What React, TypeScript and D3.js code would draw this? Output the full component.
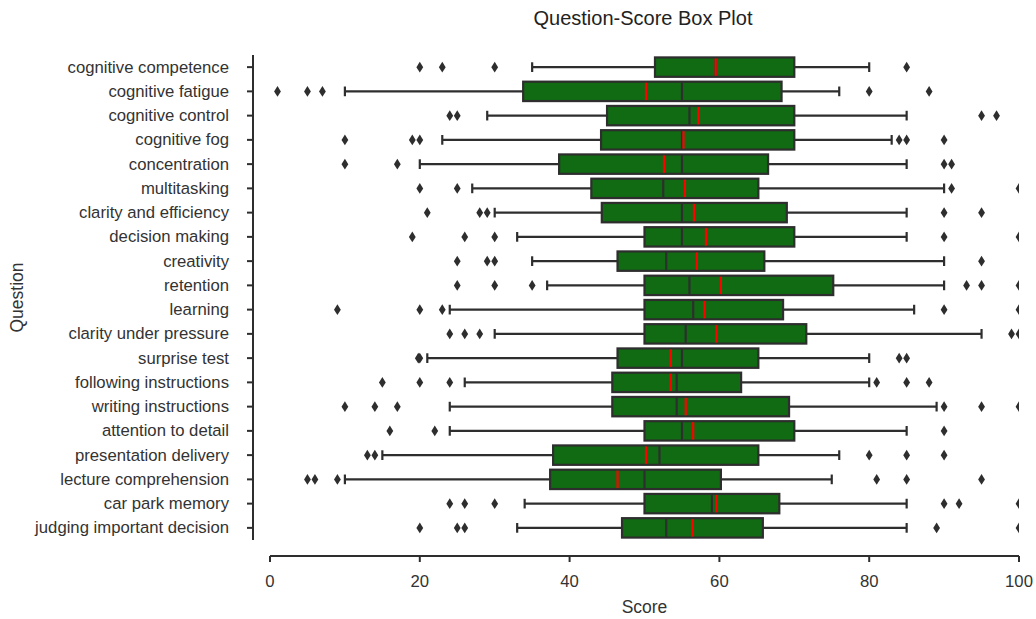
import { useEffect, useRef } from "react";
import * as d3 from "d3";

// one entry per question, top to bottom
const questions = [
  "cognitive competence",
  "cognitive fatigue",
  "cognitive control",
  "cognitive fog",
  "concentration",
  "multitasking",
  "clarity and efficiency",
  "decision making",
  "creativity",
  "retention",
  "learning",
  "clarity under pressure",
  "surprise test",
  "following instructions",
  "writing instructions",
  "attention to detail",
  "presentation delivery",
  "lecture comprehension",
  "car park memory",
  "judging important decision",
];

const whiskerLow = [35, 10, 29, 23, 20, 27, 30, 33, 35, 37, 24, 30, 21, 26, 24, 24, 15, 10, 34, 33];
const q1 = [51.4, 33.8, 45, 44.2, 38.6, 42.9, 44.3, 50, 46.4, 50, 50, 50, 46.4, 45.7, 45.7, 50, 37.8, 37.4, 50, 47];
const medians = [59.5, 55, 56, 55, 55, 52.5, 55, 55, 52.9, 56, 56.5, 55.5, 55, 54.3, 54.3, 55, 52, 50, 59, 52.9];
const means = [59.5, 50.2, 57.2, 55.2, 52.6, 55.4, 56.6, 58.2, 57, 60.2, 58, 59.6, 53.5, 53.5, 55.5, 56.5, 50.2, 46.4, 59.6, 56.4];
const q3 = [70, 68.3, 70, 70, 66.5, 65.2, 69, 70, 66, 75.2, 68.5, 71.6, 65.2, 62.9, 69.3, 70, 65.2, 60.2, 68, 65.8];
const whiskerHigh = [80, 76, 85, 83, 85, 90, 85, 85, 90, 90, 86, 95, 80, 80, 89, 85, 76, 75, 85, 85];
const outliers = [
  [20, 23, 30, 85],
  [1, 5, 7, 80, 88],
  [24, 25, 95, 97],
  [10, 19, 20, 84, 85, 90],
  [10, 17, 90, 91],
  [20, 25, 91, 100],
  [21, 28, 29, 90, 95],
  [19, 26, 30, 90, 100],
  [25, 29, 30, 95],
  [25, 30, 35, 93, 95, 100],
  [9, 20, 23, 90, 100],
  [24, 26, 28, 99, 100],
  [19.8, 20, 84, 85],
  [15, 20, 24, 81, 85, 88],
  [10, 14, 17, 90, 95, 100],
  [16, 22, 90],
  [13, 14, 80, 85, 90],
  [5, 6, 9, 81, 85, 95],
  [24, 26, 30, 90, 92, 100],
  [20, 25, 26, 89, 100],
];
const scoreTicks = [0, 20, 40, 60, 80, 100];

export default function App() {
  const ref = useRef<SVGSVGElement>(null);

  useEffect(() => {
    const width = 1036;
    const height = 619;
    const left = 270;
    const right = 1019;
    const top = 55;
    const bottom = 540;
    const ink = "#2e2e2e";
    const font = "'Liberation Sans', Arial, sans-serif";
    const lw = 2.2;

    const svg = d3.select(ref.current);
    svg.selectAll("*").remove();
    svg.attr("width", width).attr("height", height);

    const x = d3.scaleLinear().domain([0, 100]).range([left, right]);
    const y = d3.scaleBand().domain(questions).range([top, bottom]).padding(0);
    const boxH = y.bandwidth() * 0.8;
    const capH = boxH / 2;

    svg.append("defs")
      .append("clipPath")
      .attr("id", "plot-clip")
      .append("rect")
      .attr("x", left)
      .attr("y", top)
      .attr("width", right - left)
      .attr("height", bottom - top);

    const plot = svg.append("g").attr("clip-path", "url(#plot-clip)");

    questions.forEach((q, i) => {
      const cy = y(q)! + y.bandwidth() / 2;
      const g = plot.append("g");

      // whiskers and caps
      [[whiskerLow[i], q1[i]], [q3[i], whiskerHigh[i]]].forEach(([a, b]) => {
        g.append("line")
          .attr("x1", x(a)).attr("x2", x(b))
          .attr("y1", cy).attr("y2", cy)
          .attr("stroke", ink).attr("stroke-width", lw);
      });
      [whiskerLow[i], whiskerHigh[i]].forEach((v) => {
        g.append("line")
          .attr("x1", x(v)).attr("x2", x(v))
          .attr("y1", cy - capH / 2).attr("y2", cy + capH / 2)
          .attr("stroke", ink).attr("stroke-width", lw);
      });

      // box
      g.append("rect")
        .attr("x", x(q1[i]))
        .attr("y", cy - boxH / 2)
        .attr("width", x(q3[i]) - x(q1[i]))
        .attr("height", boxH)
        .attr("fill", "#106b12")
        .attr("stroke", ink)
        .attr("stroke-width", lw);

      // median
      g.append("line")
        .attr("x1", x(medians[i])).attr("x2", x(medians[i]))
        .attr("y1", cy - boxH / 2).attr("y2", cy + boxH / 2)
        .attr("stroke", ink).attr("stroke-width", lw);

      // mean
      g.append("line")
        .attr("x1", x(means[i])).attr("x2", x(means[i]))
        .attr("y1", cy - boxH / 2 + 1).attr("y2", cy + boxH / 2 - 1)
        .attr("stroke", "#ff0000").attr("stroke-width", 2.2);

      // fliers as thin diamonds
      g.selectAll("path.flier")
        .data(outliers[i])
        .join("path")
        .attr("class", "flier")
        .attr("d", (v) => {
          const px = x(v);
          return `M${px},${cy - 5.3}L${px + 3.4},${cy}L${px},${cy + 5.3}L${px - 3.4},${cy}Z`;
        })
        .attr("fill", ink);
    });

    // left axis, offset from the plot
    const yAxisX = 253;
    svg.append("line")
      .attr("x1", yAxisX).attr("x2", yAxisX)
      .attr("y1", top).attr("y2", bottom)
      .attr("stroke", ink).attr("stroke-width", 2);
    questions.forEach((q) => {
      const cy = y(q)! + y.bandwidth() / 2;
      svg.append("line")
        .attr("x1", yAxisX - 6).attr("x2", yAxisX)
        .attr("y1", cy).attr("y2", cy)
        .attr("stroke", ink).attr("stroke-width", 2);
      svg.append("text")
        .attr("x", yAxisX - 24)
        .attr("y", cy)
        .attr("text-anchor", "end")
        .attr("dominant-baseline", "central")
        .attr("font-family", font)
        .attr("font-size", 16.7)
        .attr("fill", "#333333")
        .text(q);
    });

    // bottom axis, offset from the plot
    const xAxisY = 556;
    svg.append("line")
      .attr("x1", left).attr("x2", right)
      .attr("y1", xAxisY).attr("y2", xAxisY)
      .attr("stroke", ink).attr("stroke-width", 2);
    scoreTicks.forEach((t) => {
      svg.append("line")
        .attr("x1", x(t)).attr("x2", x(t))
        .attr("y1", xAxisY).attr("y2", xAxisY + 6)
        .attr("stroke", ink).attr("stroke-width", 2);
      svg.append("text")
        .attr("x", x(t))
        .attr("y", 581)
        .attr("text-anchor", "middle")
        .attr("dominant-baseline", "central")
        .attr("font-family", font)
        .attr("font-size", 16.7)
        .attr("fill", "#333333")
        .text(t);
    });

    svg.append("text")
      .attr("x", (left + right) / 2)
      .attr("y", 607)
      .attr("text-anchor", "middle")
      .attr("dominant-baseline", "central")
      .attr("font-family", font)
      .attr("font-size", 17.5)
      .attr("fill", "#333333")
      .text("Score");

    svg.append("text")
      .attr("transform", `translate(17,${(top + bottom) / 2}) rotate(-90)`)
      .attr("text-anchor", "middle")
      .attr("dominant-baseline", "central")
      .attr("font-family", font)
      .attr("font-size", 17.5)
      .attr("fill", "#333333")
      .text("Question");

    svg.append("text")
      .attr("x", 643)
      .attr("y", 18)
      .attr("text-anchor", "middle")
      .attr("dominant-baseline", "central")
      .attr("font-family", font)
      .attr("font-size", 20)
      .attr("fill", "#222222")
      .text("Question-Score Box Plot");
  }, []);

  return (
    <svg
      ref={ref}
      style={{ position: "absolute", left: 0, top: 0, display: "block" }}
    />
  );
}
